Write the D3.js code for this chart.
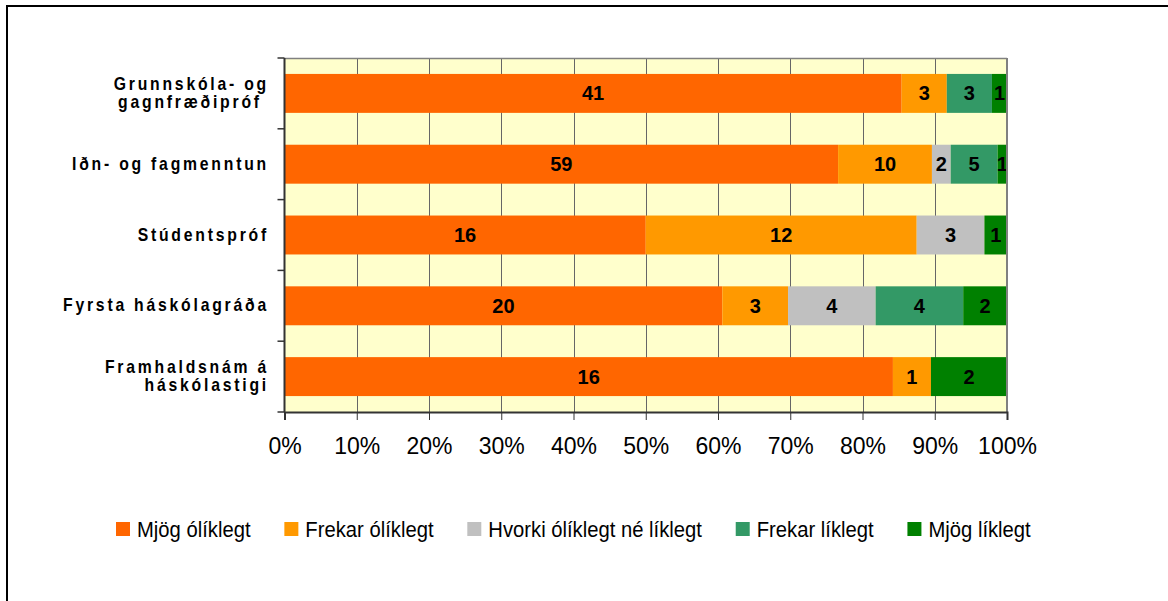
<!DOCTYPE html>
<html><head><meta charset="utf-8">
<script src="https://cdn.jsdelivr.net/npm/d3@7"></script>
<style>body{margin:0;background:#fff}svg{display:block}</style>
</head><body>
<svg id="c" width="1168" height="601"></svg>
<script>
const categories = [["Grunnskóla- og","gagnfræðipróf "],["Iðn- og fagmenntun"],["Stúdentspróf"],["Fyrsta háskólagráða"],["Framhaldsnám á","háskólastigi"]];
const seriesNames = ["Mjög ólíklegt","Frekar ólíklegt","Hvorki ólíklegt né líklegt","Frekar líklegt","Mjög líklegt"];
const seriesColors = ["#FF6600","#FF9900","#C0C0C0","#339966","#008000"];
const mjogOlik   = [41,59,16,20,16];
const frekarOlik = [3,10,12,3,1];
const hvorki     = [0,2,3,4,0];
const frekarLik  = [3,5,0,4,0];
const mjogLik    = [1,1,1,2,2];
const xTicks = [0,0.1,0.2,0.3,0.4,0.5,0.6,0.7,0.8,0.9,1];

const seriesValues = [mjogOlik, frekarOlik, hvorki, frekarLik, mjogLik];
const rows = categories.map((c,i)=>{const o={key:i}; seriesNames.forEach((s,j)=>o[s]=seriesValues[j][i]); return o;});
const stack = d3.stack().keys(seriesNames).offset(d3.stackOffsetExpand)(rows);

const svg = d3.select("#c");
const FONT = "Liberation Sans, Arial, sans-serif";
const L=284.5, R=1007, T=58, B=412;
const x = d3.scaleLinear().domain([0,1]).range([L,R]);
const y = d3.scaleBand().domain(d3.range(categories.length)).range([T,B]).paddingInner(0.45).paddingOuter(0.225);
const step = y.step();

// outer frame
svg.append("rect").attr("x",7).attr("y",6).attr("width",1200).attr("height",620).attr("fill","none").attr("stroke","#000").attr("stroke-width",2);

// plot background
svg.append("rect").attr("x",L).attr("y",T).attr("width",R-L).attr("height",B-T).attr("fill","#FFFFCC");

// gridlines
svg.append("g").selectAll("line").data(xTicks.slice(1,-1)).join("line")
  .attr("x1",d=>Math.round(x(d))+0.5).attr("x2",d=>Math.round(x(d))+0.5).attr("y1",T).attr("y2",B)
  .attr("stroke","#666").attr("stroke-width",1);

// bars
const g = svg.append("g");
stack.forEach((s,si)=>{
  g.selectAll(null).data(s.map((d,i)=>({d,i,v:seriesValues[si][i]}))).join("rect")
    .attr("x",o=>x(o.d[0])).attr("width",o=>x(o.d[1])-x(o.d[0]))
    .attr("y",o=>y(o.i)).attr("height",y.bandwidth())
    .attr("fill",seriesColors[si]);
});
// labels
stack.forEach((s,si)=>{
  g.selectAll(null).data(s.map((d,i)=>({d,i,v:seriesValues[si][i]})).filter(o=>o.v>0)).join("text")
    .attr("x",o=>(x(o.d[0])+x(o.d[1]))/2).attr("y",o=>y(o.i)+y.bandwidth()/2+7)
    .attr("text-anchor","middle").attr("font-family",FONT)
    .attr("font-weight","bold").attr("font-size",20).attr("fill","#000")
    .text(o=>o.v);
});

// plot border top/right
svg.append("line").attr("x1",L).attr("x2",R).attr("y1",T+0.5).attr("y2",T+0.5).attr("stroke","#808080").attr("stroke-width",1.5);
svg.append("line").attr("x1",R).attr("x2",R).attr("y1",T).attr("y2",B).attr("stroke","#808080").attr("stroke-width",2);

// x axis
const xAxis = svg.append("g").attr("transform",`translate(0,${B})`)
  .call(d3.axisBottom(x).tickValues(xTicks).tickFormat(d3.format(".0%")).tickSize(8).tickPadding(18));
xAxis.select(".domain").attr("stroke","#333").attr("stroke-width",2);
xAxis.selectAll(".tick line").attr("stroke","#333");
xAxis.selectAll("text").attr("font-family",FONT).attr("font-size",23).attr("fill","#000");

// y axis line and ticks
svg.append("line").attr("x1",L).attr("x2",L).attr("y1",T).attr("y2",B).attr("stroke","#333").attr("stroke-width",2);
svg.append("g").selectAll("line").data(d3.range(categories.length+1)).join("line")
  .attr("x1",L-7).attr("x2",L).attr("y1",i=>T+i*step).attr("y2",i=>T+i*step).attr("stroke","#333").attr("stroke-width",1.5);

// category labels
const cl = svg.append("g");
categories.forEach((lines,i)=>{
  const cy = y(i)+y.bandwidth()/2;
  const lh = 18.5;
  lines.forEach((t,k)=>{
    const by = cy + 5.5 + (k-(lines.length-1)/2)*lh;
    cl.append("g").attr("transform",`translate(269,${by}) scale(0.9,1)`)
      .append("text").attr("text-anchor","end")
      .attr("font-family",FONT).attr("font-weight","bold")
      .attr("font-size",17.5).attr("letter-spacing","3.1px").attr("fill","#000")
      .attr("xml:space","preserve").style("white-space","pre")
      .text(t);
  });
});

// legend
const lg = svg.append("g");
let lx = 116;
seriesNames.forEach((n,i)=>{
  lg.append("rect").attr("x",lx).attr("y",522).attr("width",14).attr("height",14).attr("fill",seriesColors[i]);
  const tg = lg.append("g").attr("transform",`translate(${lx+21},537) scale(0.92,1)`);
  const t = tg.append("text").attr("font-family",FONT).attr("font-size",22).attr("fill","#000").text(n);
  const w = t.node().getComputedTextLength()*0.92;
  lx += 21 + w + 33.8;
});
</script>
</body></html>
